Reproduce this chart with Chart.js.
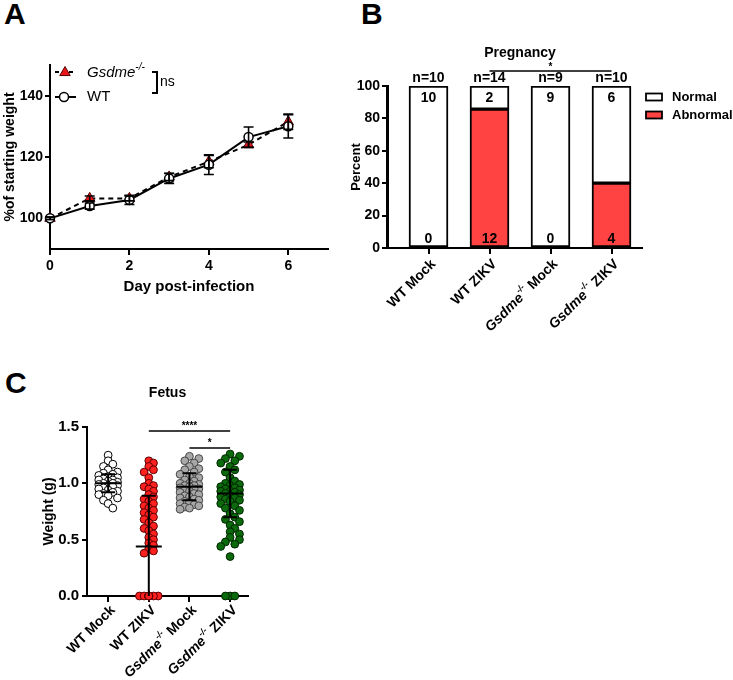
<!DOCTYPE html>
<html><head><meta charset="utf-8">
<script src="https://cdn.jsdelivr.net/npm/chart.js@4.4.1/dist/chart.umd.min.js"></script>
<style>
html,body{margin:0;padding:0;background:#fff;}
#wrap{position:relative;width:733px;height:680px;overflow:hidden;font-family:'Liberation Sans',Arial,sans-serif;}
canvas{position:absolute;}
.lbl{position:absolute;font-weight:bold;font-size:30px;line-height:1;color:#000;}
</style></head><body>
<div id="wrap">
<div class="lbl" style="left:4px;top:-1px">A</div>
<div class="lbl" style="left:361px;top:-1px">B</div>
<div class="lbl" style="left:5px;top:368px">C</div>
<canvas id="cA" width="340" height="310" style="left:0;top:0"></canvas>
<canvas id="cB" width="393" height="340" style="left:340px;top:0"></canvas>
<canvas id="cC" width="340" height="320" style="left:0;top:360px"></canvas>
</div>
<script>
// ---------------- DATA ----------------
// Panel A
const daysA = [0,1,2,3,4,5,6];
const gsdmeWeight = [100,106.5,106.5,113.5,118.5,124,131.5];
const gsdmeErr = [0.4,0.8,0.8,1.2,2.0,0.9,2.5];
const wtWeight = [100,104,106,113,117.5,126.5,130];
const wtErr = [0.4,1.0,1.5,1.6,3.2,3.3,3.8];
const xTicksA = [0,2,4,6];
const yTicksA = [100,120,140];

// Panel B
const catsB = ['WT Mock','WT ZIKV','Gsdme-/- Mock','Gsdme-/- ZIKV'];
const normalPct = [100,14.3,100,60];
const abnormalPct = [0,85.7,0,40];
const normalCnt = [10,2,9,6];
const abnormalCnt = [0,12,0,4];
const nB = [10,14,9,10];
const yTicksB = [0,20,40,60,80,100];

// Panel C
const catsC = ['WT Mock','WT ZIKV','Gsdme-/- Mock','Gsdme-/- ZIKV'];
const wtMock = [1.25,1.20,1.17,1.15,1.12,1.10,1.09,1.08,1.07,1.06,1.05,1.04,1.03,1.03,1.02,1.01,1.00,1.00,0.99,0.98,0.98,0.97,0.96,0.95,0.94,0.93,0.92,0.91,0.90,0.89,0.87,0.85,0.82,0.78];
const wtZikv = [1.20,1.18,1.15,1.12,1.10,1.05,1.00,0.98,0.97,0.95,0.93,0.90,0.88,0.86,0.84,0.82,0.80,0.78,0.76,0.74,0.72,0.70,0.68,0.65,0.62,0.60,0.58,0.55,0.52,0.50,0.47,0.45,0.42,0.40,0.38,
  0,0,0,0,0,0,0,0,0,0,0,0,0,0,0,0,0,0,0,0,0,0,0,0];
const koMock = [1.24,1.22,1.20,1.18,1.15,1.13,1.12,1.10,1.08,1.06,1.05,1.03,1.02,1.00,1.00,0.99,0.98,0.98,0.97,0.96,0.95,0.95,0.94,0.93,0.92,0.91,0.90,0.89,0.88,0.87,0.86,0.85,0.84,0.83,0.82,0.81,0.80,0.79,0.78,0.77];
const koZikv = [1.26,1.24,1.22,1.20,1.18,1.15,1.12,1.10,1.05,1.02,1.00,0.99,0.98,0.97,0.96,0.95,0.94,0.93,0.93,0.92,0.91,0.90,0.89,0.88,0.87,0.86,0.85,0.84,0.82,0.80,0.78,0.76,0.73,0.70,0.68,0.66,0.63,0.60,0.57,0.55,0.52,0.50,0.48,0.46,0.44,0.35,0,0,0];
const meanC = [1.00,0.44,0.97,0.91];
const sdC = [0.08,0.45,0.12,0.21];
const yTicksC = [0,0.5,1.0,1.5];

// ---------------- HELPERS ----------------
const FF = "'Liberation Sans', Arial, Helvetica, sans-serif";
const bf = s => `bold ${s}px ${FF}`;
function richLabel(str, size, weight){
  const w = weight || 'bold';
  const m = str.match(/Gsdme-\/-/);
  if(!m) return [{t:str, f:`${w} ${size}px ${FF}`}];
  const segs=[];
  const before = str.slice(0,m.index), after = str.slice(m.index+m[0].length);
  if(before) segs.push({t:before, f:`${w} ${size}px ${FF}`});
  segs.push({t:'Gsdme', f:`italic ${w} ${size}px ${FF}`});
  segs.push({t:'-/-', f:`italic ${w} ${Math.round(size*0.65)}px ${FF}`, dy:-size*0.4});
  if(after) segs.push({t:after, f:`${w} ${size}px ${FF}`});
  return segs;
}
function drawRich(ctx, segs, x, y, align){
  let w=0;
  for(const s of segs){ctx.font=s.f; s.w=ctx.measureText(s.t).width; w+=s.w;}
  let cx = align==='right' ? x-w : align==='center' ? x-w/2 : x;
  ctx.textAlign='left';
  for(const s of segs){ctx.font=s.f; ctx.fillText(s.t, cx, y+(s.dy||0)); cx+=s.w;}
}
function axisBase(tickLen){
  return {
    offset:false,
    grid:{drawOnChartArea:false, drawTicks:true, tickLength:tickLen, color:'#000', lineWidth:2, offset:false},
    border:{display:true, color:'#000', width:2}
  };
}
function tri(ctx,x,y,r){
  ctx.beginPath();
  ctx.moveTo(x, y-r);
  ctx.lineTo(x+r*0.95, y+r*0.65);
  ctx.lineTo(x-r*0.95, y+r*0.65);
  ctx.closePath();
}
// makes sure the left axis line is present
const yAxisLine = {
  id:'yAxisLine',
  afterDraw(chart){
    const {ctx, chartArea:ca} = chart;
    ctx.save(); ctx.strokeStyle='#000'; ctx.lineWidth=2;
    ctx.beginPath(); ctx.moveTo(ca.left-1, ca.top); ctx.lineTo(ca.left-1, ca.bottom+1); ctx.stroke();
    ctx.restore();
  }
};

// ---------------- PANEL A ----------------
const errA = {
  id:'errA',
  afterDatasetsDraw(chart){
    const {ctx, scales:{x,y}} = chart;
    ctx.save(); ctx.strokeStyle='#000'; ctx.lineWidth=1.6; ctx.setLineDash([]);
    [[wtWeight,wtErr],[gsdmeWeight,gsdmeErr]].forEach(([vals,errs])=>{
      vals.forEach((v,i)=>{
        const px=x.getPixelForValue(daysA[i]);
        const t=y.getPixelForValue(v+errs[i]), b=y.getPixelForValue(v-errs[i]);
        ctx.beginPath();
        ctx.moveTo(px,t); ctx.lineTo(px,b);
        ctx.moveTo(px-5,t); ctx.lineTo(px+5,t);
        ctx.moveTo(px-5,b); ctx.lineTo(px+5,b);
        ctx.stroke();
      });
    });
    ctx.restore();
  }
};
const legendA = {
  id:'legA',
  afterDraw(chart){
    const ctx=chart.ctx, L=chart.chartArea.left;
    ctx.save();
    ctx.strokeStyle='#000'; ctx.lineWidth=2;
    const y1=72, y2=97;
    ctx.setLineDash([4,3]);
    ctx.beginPath(); ctx.moveTo(L+5,y1); ctx.lineTo(L+26,y1); ctx.stroke();
    ctx.setLineDash([]);
    tri(ctx, L+15, y1, 5.5); ctx.fillStyle='#e8161b'; ctx.fill(); ctx.lineWidth=1; ctx.strokeStyle='#500'; ctx.stroke();
    ctx.fillStyle='#000'; ctx.textBaseline='middle';
    drawRich(ctx, richLabel('Gsdme-/-',15,'normal'), L+37, y1+1, 'left');
    ctx.strokeStyle='#000'; ctx.lineWidth=2;
    ctx.beginPath(); ctx.moveTo(L+5,y2); ctx.lineTo(L+26,y2); ctx.stroke();
    ctx.beginPath(); ctx.arc(L+14,y2,4.5,0,Math.PI*2); ctx.fillStyle='#fff'; ctx.fill(); ctx.lineWidth=1.5; ctx.stroke();
    ctx.fillStyle='#000';
    ctx.font=`15px ${FF}`; ctx.textAlign='left'; ctx.fillText('WT', L+37, y2);
    ctx.lineWidth=2;
    ctx.beginPath(); ctx.moveTo(L+102,y1); ctx.lineTo(L+107,y1); ctx.lineTo(L+107,y2-4); ctx.lineTo(L+102,y2-4); ctx.stroke();
    ctx.font=`14px ${FF}`; ctx.fillText('ns', L+110, (y1+y2)/2-2);
    ctx.restore();
  }
};
new Chart(document.getElementById('cA'), {
  type:'line',
  data:{datasets:[
    {label:'WT', data:daysA.map((d,i)=>({x:d,y:wtWeight[i]})), borderColor:'#000', borderWidth:2,
     pointStyle:'circle', pointRadius:4.5, pointBackgroundColor:'#fff', pointBorderColor:'#000', pointBorderWidth:1.5, tension:0, clip:false},
    {label:'Gsdme-/-', data:daysA.map((d,i)=>({x:d,y:gsdmeWeight[i]})), borderColor:'#000', borderWidth:2, borderDash:[5,4],
     pointStyle:'triangle', pointRadius:6, pointBackgroundColor:'#e8161b', pointBorderColor:'#500', pointBorderWidth:1, tension:0, clip:false}
  ]},
  options:{
    responsive:false, animation:false, devicePixelRatio:1,
    layout:{padding:{top:65,right:12,left:0,bottom:0}},
    plugins:{legend:{display:false}, tooltip:{enabled:false}},
    scales:{
      x:Object.assign(axisBase(6), {type:'linear', min:0, max:7,
        afterBuildTicks:s=>{s.ticks=xTicksA.map(v=>({value:v}));},
        afterFit:s=>{s.height=61;},
        ticks:{color:'#000', font:{family:FF,size:14,weight:'bold'}, padding:3},
        title:{display:true, text:'Day post-infection', color:'#000', font:{family:FF,size:15,weight:'bold'}, padding:{top:0,bottom:14}}}),
      y:Object.assign(axisBase(5), {type:'linear', min:90, max:150,
        afterBuildTicks:s=>{s.ticks=yTicksA.map(v=>({value:v}));},
        afterFit:s=>{s.width=50;},
        ticks:{color:'#000', font:{family:FF,size:14,weight:'bold'}, padding:2},
        title:{display:true, text:'%of starting weight', color:'#000', font:{family:FF,size:14,weight:'bold'}, padding:{top:2,bottom:0}}})
    }
  },
  plugins:[errA, legendA]
});

// ---------------- PANEL B ----------------
const overlayB = {
  id:'ovB',
  afterDraw(chart){
    const {ctx, scales:{x,y}, chartArea:ca} = chart;
    ctx.save(); ctx.fillStyle='#000'; ctx.textBaseline='middle'; ctx.textAlign='center';
    const top=y.getPixelForValue(100), base=y.getPixelForValue(0);
    catsB.forEach((c,i)=>{
      const cx=x.getPixelForValue(i+1);
      ctx.textAlign='center';
      ctx.font=bf(14); ctx.fillText('n='+nB[i], cx, top-8);
      ctx.fillText(String(normalCnt[i]), cx, top+12);
      ctx.fillText(String(abnormalCnt[i]), cx, base-9);
      ctx.save(); ctx.translate(cx+5, base+14); ctx.rotate(-Math.PI/4);
      drawRich(ctx, richLabel(c,14), 0, 0, 'right'); ctx.restore();
    });
    const x1=x.getPixelForValue(1), x4=x.getPixelForValue(4);
    ctx.textAlign='center'; ctx.font=bf(14);
    ctx.fillText('Pregnancy', (x1+x4)/2, top-33);
    const sa=x.getPixelForValue(2), sb=x.getPixelForValue(4), sy=top-15;
    ctx.strokeStyle='#000'; ctx.lineWidth=1.5;
    ctx.beginPath(); ctx.moveTo(sa,sy); ctx.lineTo(sb,sy); ctx.stroke();
    ctx.font=bf(10); ctx.fillText('*', (sa+sb)/2, sy-4);
    const lx=ca.right+4;
    [['Normal','#ffffff',97],['Abnormal','#ff4242',115]].forEach(([t,col,ly])=>{
      ctx.fillStyle=col; ctx.fillRect(lx,ly-3.5,16,7);
      ctx.strokeStyle='#000'; ctx.lineWidth=1.8; ctx.strokeRect(lx,ly-3.5,16,7);
      ctx.fillStyle='#000'; ctx.font=bf(13); ctx.textAlign='left'; ctx.fillText(t, lx+26, ly);
    });
    ctx.restore();
  }
};
new Chart(document.getElementById('cB'), {
  type:'bar',
  data:{datasets:[
    {label:'Abnormal', data:abnormalPct.map((v,i)=>({x:i+1,y:v})), backgroundColor:'#ff4242', borderColor:'#000', borderWidth:2, borderSkipped:false, barThickness:39},
    {label:'Normal', data:normalPct.map((v,i)=>({x:i+1,y:v})), backgroundColor:'#ffffff', borderColor:'#000', borderWidth:2, borderSkipped:false, barThickness:39}
  ]},
  options:{
    responsive:false, animation:false, devicePixelRatio:1,
    layout:{padding:{top:86,right:91,left:0,bottom:0}},
    plugins:{legend:{display:false}, tooltip:{enabled:false}},
    scales:{
      x:Object.assign(axisBase(6), {type:'linear', stacked:true, min:0.336, max:4.5,
        afterBuildTicks:s=>{s.ticks=catsB.map((c,i)=>({value:i+1}));},
        afterFit:s=>{s.height=92;},
        ticks:{display:false}}),
      y:Object.assign(axisBase(6), {type:'linear', stacked:true, min:0, max:100,
        afterBuildTicks:s=>{s.ticks=yTicksB.map(v=>({value:v}));},
        afterFit:s=>{s.width=48;},
        ticks:{color:'#000', font:{family:FF,size:14,weight:'bold'}, padding:2},
        title:{display:true, text:'Percent', color:'#000', font:{family:FF,size:13,weight:'bold'}, padding:{top:9,bottom:0}}})
    }
  },
  plugins:[overlayB, yAxisLine]
});

// ---------------- PANEL C ----------------
function swarm(values, pxPerY, pxPerX, diam, half, zeroHalf){
  const placed=[], out=new Array(values.length);
  const step=diam*0.55;
  values.forEach((v,i)=>{
    const yy=v*pxPerY;
    const K=Math.floor((v===0?zeroHalf:half)/step);
    let best=0, bestClear=-1;
    for(let k=0;k<=2*K;k++){
      const off=(k%2===1?1:-1)*Math.ceil(k/2)*step;
      let clear=Infinity;
      for(const p of placed){const d=Math.hypot(p.x-off,p.y-yy); if(d<clear) clear=d;}
      if(clear>=diam*0.62){best=off; bestClear=clear; break;}
      if(clear>bestClear){bestClear=clear; best=off;}
    }
    placed.push({x:best,y:yy});
    out[i]=best/pxPerX;
  });
  return out;
}
const groupsC=[wtMock, wtZikv, koMock, koZikv];
const fillC=['#ffffff','#ff2020','#a8a8a8','#0b6a0b'];
const edgeC=['#000000','#5a0000','#454545','#002400'];
const halfC=[12,5,12,12];
const zeroHalfC=[12,14,12,6];
const overlayC = {
  id:'ovC',
  afterDatasetsDraw(chart){
    const {ctx, scales:{x,y}} = chart;
    ctx.save(); ctx.strokeStyle='#000'; ctx.lineWidth=2;
    meanC.forEach((m,i)=>{
      const cx=x.getPixelForValue(i+1);
      const pm=y.getPixelForValue(m), pt=y.getPixelForValue(m+sdC[i]), pb=y.getPixelForValue(Math.max(0,m-sdC[i]));
      ctx.beginPath();
      ctx.moveTo(cx-13,pm); ctx.lineTo(cx+13,pm);
      ctx.moveTo(cx,pt); ctx.lineTo(cx,pb);
      ctx.moveTo(cx-7,pt); ctx.lineTo(cx+7,pt);
      if(m-sdC[i]>0){ctx.moveTo(cx-7,pb); ctx.lineTo(cx+7,pb);}
      ctx.stroke();
    });
    ctx.restore();
  },
  afterDraw(chart){
    const {ctx, scales:{x,y}, chartArea:ca} = chart;
    ctx.save(); ctx.fillStyle='#000'; ctx.textBaseline='middle';
    const base=y.getPixelForValue(0);
    catsC.forEach((c,i)=>{
      const cx=x.getPixelForValue(i+1);
      ctx.save(); ctx.translate(cx+5, base+12); ctx.rotate(-Math.PI/4);
      drawRich(ctx, richLabel(c,14), 0, 0, 'right'); ctx.restore();
    });
    ctx.textAlign='center'; ctx.font=bf(14);
    ctx.fillText('Fetus', (ca.left+ca.right)/2, 33);
    [[2,4,1.465,'****'],[3,4,1.313,'*']].forEach(([a,b,lv,lab])=>{
      const xa=x.getPixelForValue(a), xb=x.getPixelForValue(b), yy=y.getPixelForValue(lv);
      ctx.strokeStyle='#000'; ctx.lineWidth=1.5;
      ctx.beginPath(); ctx.moveTo(xa,yy); ctx.lineTo(xb,yy); ctx.stroke();
      ctx.font=bf(10); ctx.textAlign='center'; ctx.fillText(lab,(xa+xb)/2,yy-5);
    });
    ctx.restore();
  }
};
new Chart(document.getElementById('cC'), {
  type:'scatter',
  data:{datasets:groupsC.map((vals,g)=>{
    const offs=swarm(vals,112.7,40.6,8.5,halfC[g],zeroHalfC[g]);
    return {label:catsC[g], data:vals.map((v,i)=>({x:g+1+offs[i], y:v})),
      pointRadius:3.9, pointBackgroundColor:fillC[g], pointBorderColor:edgeC[g], pointBorderWidth:1, clip:false};
  })},
  options:{
    responsive:false, animation:false, devicePixelRatio:1,
    layout:{padding:{top:67,right:92,left:0,bottom:0}},
    plugins:{legend:{display:false}, tooltip:{enabled:false}},
    scales:{
      x:Object.assign(axisBase(6), {type:'linear', min:0.48, max:4.44,
        afterBuildTicks:s=>{s.ticks=catsC.map((c,i)=>({value:i+1}));},
        afterFit:s=>{s.height=84;},
        ticks:{display:false}}),
      y:Object.assign(axisBase(5), {type:'linear', min:0, max:1.5,
        afterBuildTicks:s=>{s.ticks=yTicksC.map(v=>({value:v}));},
        afterFit:s=>{s.width=87;},
        ticks:{color:'#000', font:{family:FF,size:15,weight:'bold'}, padding:3, callback:v=>Number(v).toFixed(1)},
        title:{display:true, text:'Weight (g)', color:'#000', font:{family:FF,size:14,weight:'bold'}, padding:{top:41,bottom:0}}})
    }
  },
  plugins:[overlayC]
});
</script>
</body></html>
